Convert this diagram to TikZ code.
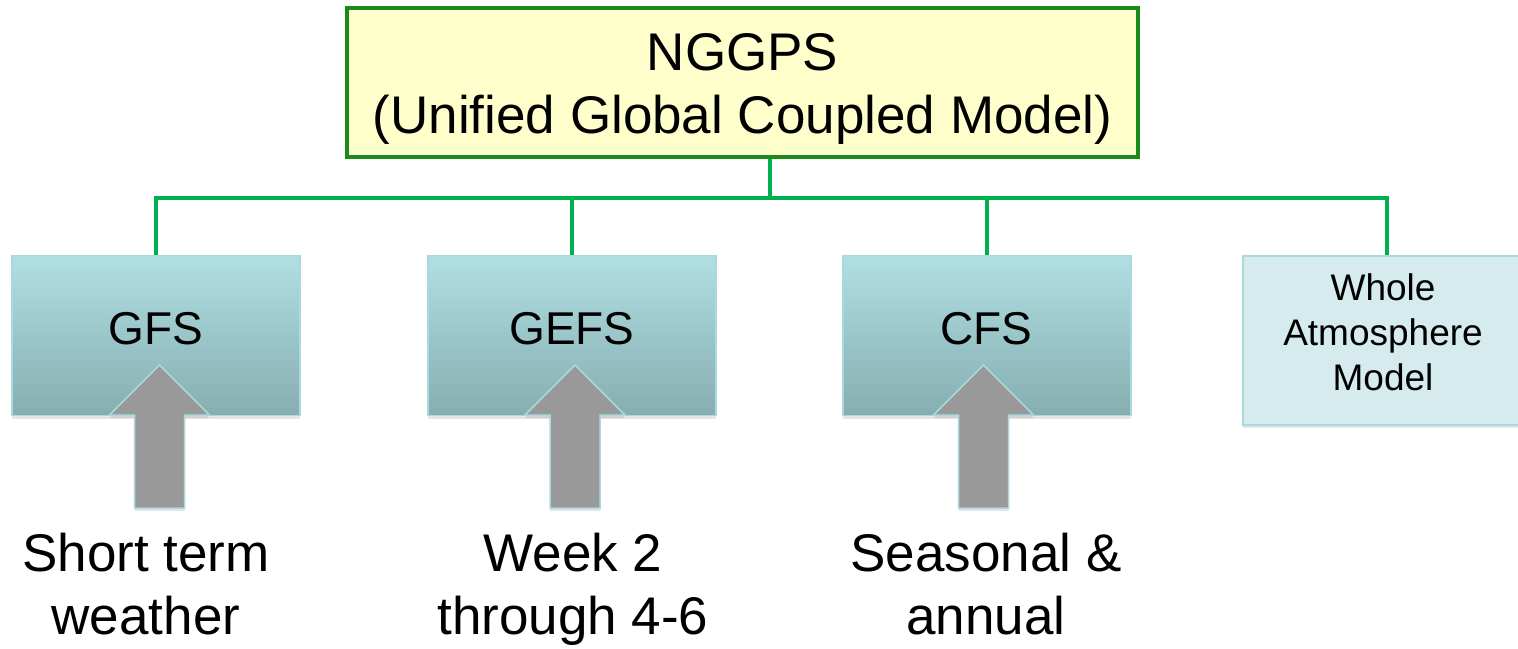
\documentclass[tikz,border=0pt]{standalone}
\usepackage{fontspec}
\setmainfont{Liberation Sans}
\usetikzlibrary{shadows,calc}
\definecolor{topfill}{HTML}{FFFFCC}
\definecolor{topdraw}{HTML}{1A8A1A}
\definecolor{connc}{HTML}{00B050}
\definecolor{boxtop}{HTML}{B0DFE3}
\definecolor{boxbot}{HTML}{86AEB0}
\definecolor{boxline}{HTML}{A9D9DD}
\definecolor{wafill}{HTML}{D6EBEE}
\definecolor{arrfill}{HTML}{999999}
\begin{document}
\begin{tikzpicture}[x=1pt,y=-1pt,
  topbox/.style={draw=topdraw, line width=4pt, fill=topfill, minimum width=791pt, minimum height=149pt, inner sep=0pt},
  modelbox/.style={draw=boxline, line width=1.5pt, top color=boxtop, bottom color=boxbot, minimum width=288pt, minimum height=160pt, inner sep=0pt, drop shadow={shadow xshift=0pt, shadow yshift=-3pt, opacity=0.2}},
  wabox/.style={draw=boxline, line width=1.5pt, fill=wafill, minimum width=288pt, minimum height=169pt, inner sep=0pt, drop shadow={shadow xshift=0pt, shadow yshift=-3pt, opacity=0.2}},
  conn/.style={draw=connc, line width=4.5pt},
  arrowshape/.style={draw=boxline, line width=1.5pt, fill=arrfill, drop shadow={shadow xshift=0pt, shadow yshift=-3pt, opacity=0.2}},
  titletext/.style={font=\fontsize{53}{63}\selectfont, align=center, anchor=base, inner sep=0pt},
  labeltext/.style={font=\fontsize{46}{55}\selectfont, anchor=base, inner sep=0pt},
  watext/.style={font=\fontsize{37}{45}\selectfont, align=center, anchor=base, inner sep=0pt},
  bottomtext/.style={font=\fontsize{53}{63}\selectfont, align=center, anchor=base, inner sep=0pt}
]
\useasboundingbox (0,0) rectangle (1518,648);

% top box
\node[topbox] (top) at (742.5,82.5) {};
\node[titletext] (toptext) at (742.5,133) {NGGPS\\(Unified Global Coupled Model)};

% model boxes
\node[modelbox] (gfs) at (156,335.5) {};
\node[modelbox] (gefs) at (572,335.5) {};
\node[modelbox] (cfs) at (987,335.5) {};
\node[wabox] (wam) at (1387,340.5) {};

% connectors
\coordinate (bus) at (770,198);
\draw[conn] (top.south -| bus) -- (bus);
\draw[conn] (bus) -| (gfs.north);
\draw[conn] (bus) -| (gefs.north);
\draw[conn] (bus) -| (cfs.north);
\draw[conn] (bus) -| (wam.north);

% arrows
\foreach \ax in {159.5,575,983.5} {
  \draw[arrowshape] (\ax,365) -- (\ax+50,415) -- (\ax+25,415) -- (\ax+25,508)
    -- (\ax-25,508) -- (\ax-25,415) -- (\ax-50,415) -- cycle;
}

% labels
\node[labeltext] (gfslabel) at (156,344) {GFS};
\node[labeltext] (gefslabel) at (572,344) {GEFS};
\node[labeltext] (cfslabel) at (986,344) {CFS};
\node[watext] (wamlabel) at (1383,390) {Whole\\Atmosphere\\Model};

\node[bottomtext] (b1) at (146,634) {Short term\\weather};
\node[bottomtext] (b2) at (573,634) {Week 2\\through 4-6};
\node[bottomtext] (b3) at (986,634) {Seasonal \&\\annual};
\end{tikzpicture}
\end{document}
